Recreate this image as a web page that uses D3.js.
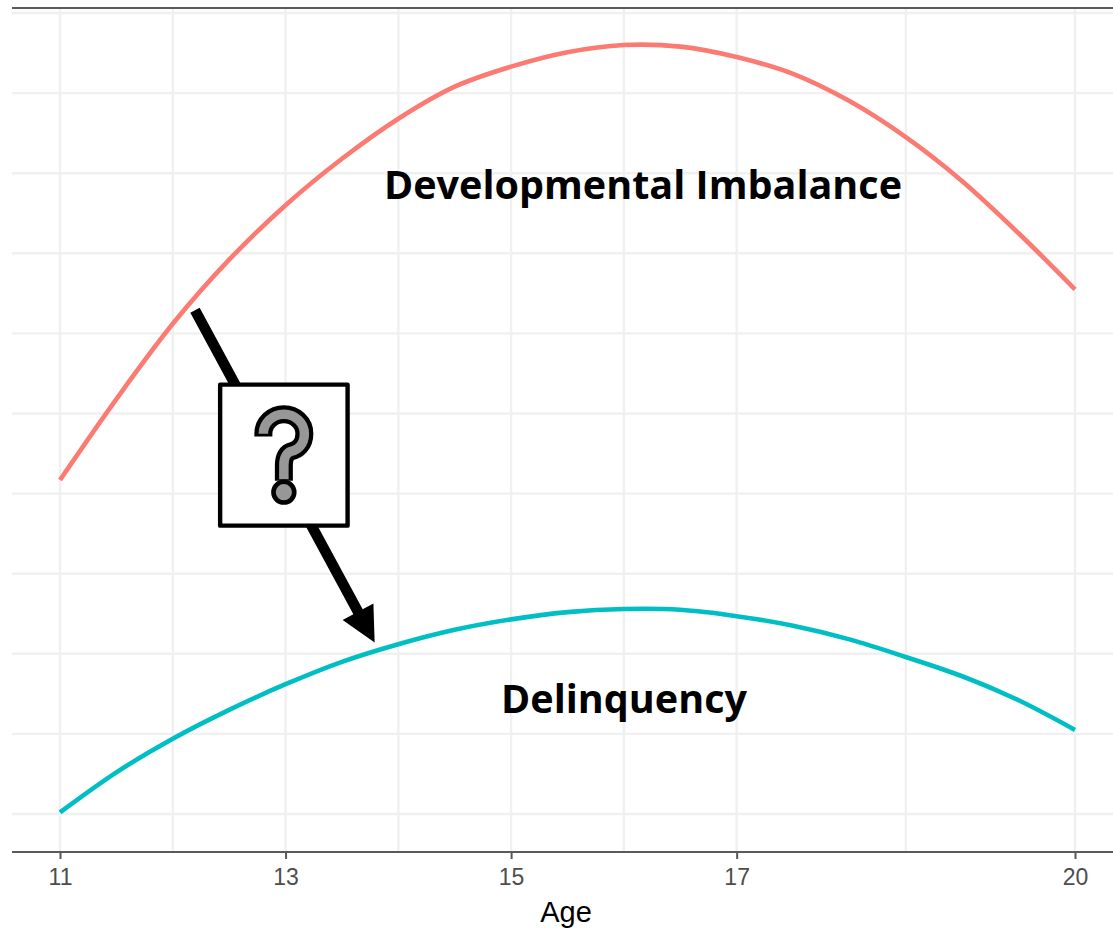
<!DOCTYPE html>
<html><head><meta charset="utf-8">
<script src="https://cdn.jsdelivr.net/npm/d3@7"></script>
<style>html,body{margin:0;padding:0;background:#fff}svg{display:block}</style>
</head><body><svg id="c" width="1113" height="933"></svg>
<script>
const ages = [11,11.5,12,12.5,13,13.5,14,14.5,15,15.5,16,16.5,17,17.5,18,18.5,19,19.5,20];
const imbalance = [4.17,5.18,6.12,6.92,7.60,8.18,8.68,9.08,9.33,9.51,9.60,9.58,9.45,9.24,8.90,8.45,7.90,7.25,6.55];
const delinquency = [0.02,0.52,0.94,1.30,1.62,1.90,2.12,2.30,2.43,2.52,2.56,2.55,2.47,2.35,2.18,1.96,1.72,1.42,1.05];
const majorTicks = [11,13,15,17,20];
const minorBreaks = [12,14,16,18.5];
const yGrid = [0,1,2,3,4,5,6,7,8,9,10];
const seriesLabels = ["Developmental Imbalance","Delinquency"];
const axisTitle = "Age";
const arrowFrom = [12.197,6.29], arrowTo = [13.79,2.14];
const boxCorners = [[12.42,5.36],[13.55,3.60]];

const svg = d3.select("#c");
const x = d3.scaleLinear().domain([11,20]).range([60,1075]);
const y = d3.scaleLinear().domain([0,10]).range([814,13]);
const L = 12, R = 1113, T = 8, B = 852;

// grid
const grid = svg.append("g").attr("stroke","#f0f0f0").attr("stroke-width",2.4);
grid.selectAll(".h").data(yGrid).join("line").attr("x1",L).attr("x2",R).attr("y1",d=>y(d)).attr("y2",d=>y(d));
grid.selectAll(".v").data(majorTicks.concat(minorBreaks)).join("line").attr("x1",d=>x(d)).attr("x2",d=>x(d)).attr("y1",T).attr("y2",B);

// axis
const ax = svg.append("g").attr("transform",`translate(0,${B})`)
  .call(d3.axisBottom(x).tickValues(majorTicks).tickSize(7).tickPadding(10).tickFormat(d3.format("d")));
ax.select(".domain").remove();
ax.selectAll("line").attr("stroke","#555").attr("stroke-width",2);
ax.selectAll("text").attr("fill","#4d4d4d").style("font-family","'Liberation Sans'").style("font-size","23px");
svg.append("line").attr("x1",L).attr("x2",R).attr("y1",B).attr("y2",B).attr("stroke","#5a5a5a").attr("stroke-width",2.2);
svg.append("line").attr("x1",L).attr("x2",R).attr("y1",T).attr("y2",T).attr("stroke","#5a5a5a").attr("stroke-width",2.2);

// curves
const line = d3.line().x((d,i)=>x(ages[i])).y(d=>y(d)).curve(d3.curveCatmullRom.alpha(0.5));
svg.append("path").attr("d",line(imbalance)).attr("fill","none").attr("stroke","#fb7a72").attr("stroke-width",4.6);
svg.append("path").attr("d",line(delinquency)).attr("fill","none").attr("stroke","#00bfc4").attr("stroke-width",4.6);

// arrow
const ax0 = x(arrowFrom[0]), ay0 = y(arrowFrom[1]), ax1 = x(arrowTo[0]), ay1 = y(arrowTo[1]);
const len = Math.hypot(ax1-ax0, ay1-ay0), ux = (ax1-ax0)/len, uy = (ay1-ay0)/len;
const headL = 35, headW = 17.5, shaftW = 5.3;
const bx = ax1-ux*headL, by = ay1-uy*headL;
const px = -uy, py = ux;
svg.append("polygon").attr("fill","#000").attr("points",[
  [ax0+px*shaftW,ay0+py*shaftW],[bx+px*shaftW,by+py*shaftW],[bx+px*headW,by+py*headW],
  [ax1,ay1],[bx-px*headW,by-py*headW],[bx-px*shaftW,by-py*shaftW],[ax0-px*shaftW,ay0-py*shaftW]
].map(p=>p.join(",")).join(" "));

// box
const bX0 = x(boxCorners[0][0]), bY0 = y(boxCorners[0][1]), bX1 = x(boxCorners[1][0]), bY1 = y(boxCorners[1][1]);
svg.append("rect").attr("x",bX0).attr("y",bY0).attr("width",bX1-bX0).attr("height",bY1-bY0)
  .attr("fill","#fff").attr("stroke","#000").attr("stroke-width",4.4).attr("stroke-linejoin","round");

// question mark, drawn relative to the box centre
const cx = (bX0+bX1)/2, cy = (bY0+bY1)/2;
const q = svg.append("g").attr("transform",`translate(${cx},${cy})`);
const qPath = (startY,endY)=>`M-20.5,${startY}L-20.5,-21.5A20.5,19.5 0 0 1 20.5,-21.5C20.5,-10 13,-5 8,-4C3,-3 0,2 0,10L0,${endY}`;
q.append("path").attr("d",qPath(-18.6,25.5)).attr("fill","none").attr("stroke","#000").attr("stroke-width",18);
q.append("path").attr("d",qPath(-22,24)).attr("fill","none").attr("stroke","#979797").attr("stroke-width",9.5);
q.append("circle").attr("cx",0).attr("cy",37).attr("r",10.4).attr("fill","#979797").attr("stroke","#000").attr("stroke-width",4.6);

// labels
svg.selectAll(".lab").data(seriesLabels).join("text")
  .attr("x",(d,i)=>i===0?384:501).attr("y",(d,i)=>i===0?199:713)
  .attr("textLength",(d,i)=>i===0?518:246).attr("lengthAdjust","spacingAndGlyphs")
  .attr("fill","#000").style("font-family","'Open Sans'").style("font-weight",700).style("font-size","40px")
  .text(d=>d);
svg.append("text").attr("x",566).attr("y",922).attr("text-anchor","middle").attr("fill","#000")
  .style("font-family","'Liberation Sans'").style("font-size","29px").text(axisTitle);
</script></body></html>
